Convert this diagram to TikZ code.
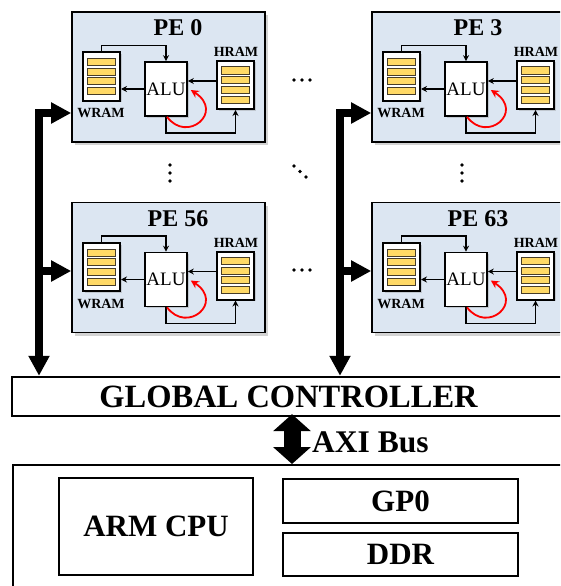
\documentclass[tikz,border=0pt]{standalone}
\usepackage{fontspec}
\setmainfont{Liberation Serif}
\usetikzlibrary{arrows.meta,positioning,shadows,calc}

\definecolor{peblue}{RGB}{220,230,242}
\definecolor{baryellow}{RGB}{255,217,102}
\definecolor{bardark}{RGB}{70,60,40}

\tikzset{
 pebox/.style={draw,line width=1.6pt,fill=peblue,minimum width=193pt,minimum height=130pt,
  drop shadow={opacity=0.35,shadow xshift=2.5pt,shadow yshift=-3pt}},
 mem/.style={draw,line width=2pt,fill=white,minimum width=37pt,minimum height=48pt,inner sep=0pt,
  drop shadow={opacity=0.3,shadow xshift=1.5pt,shadow yshift=-1.5pt}},
 alu/.style={draw,line width=1.6pt,fill=white,minimum width=42pt,minimum height=54pt,inner sep=0pt,
  font=\fontsize{19}{19}\selectfont,drop shadow={opacity=0.3,shadow xshift=1.5pt,shadow yshift=-1.5pt}},
 bar/.style={draw=bardark,line width=1pt,fill=baryellow},
 memlabel/.style={font=\bfseries\fontsize{14}{14}\selectfont,inner sep=0pt},
 petitle/.style={font=\bfseries\fontsize{24}{24}\selectfont,inner sep=0pt},
 wire/.style={line width=1.4pt,-{Stealth[length=6pt,width=6pt]}},
 loopback/.style={red,line width=1.8pt,-{Stealth[length=8pt,width=8pt]}},
 bus/.style={line width=8pt,-{Triangle[length=20pt,width=20pt]}},
 axibus/.style={line width=17pt,{Triangle[length=17pt,width=37pt]}-{Triangle[length=17pt,width=37pt]}},
 block/.style={draw,line width=2.4pt,inner sep=0pt,font=\bfseries\fontsize{31}{31}\selectfont},
 dot/.style={fill=black},
}

% one processing element: name, x, y, title
\newcommand\peunit[4]{%
 \begin{scope}[shift={(#2,#3)}]
 \node[pebox] (#1) at (0,0) {};
 \node[petitle] (#1-t) at (9.5,-49) {#4};
 \node[mem] (#1-w) at (-67,-0.5) {};
 \node[memlabel] (#1-wl) at (-67.5,36) {WRAM};
 \node[alu] (#1-a) at (-2.5,12) {ALU};
 \node[mem] (#1-h) at (67,8) {};
 \node[memlabel] (#1-hl) at (67.5,-25) {HRAM};
 \foreach \m in {w,h}
  \foreach \k in {-14.5,-4.8,4.8,14.5}
   \draw[bar] ($(#1-\m)+(-14,\k-3.5)$) rectangle ($(#1-\m)+(14,\k+3.5)$);
 \coordinate (#1-p) at ($(#1-h.west)+(0,-4)$);
 \draw[wire] (#1-w.north) -- ++(0,-6) -| (#1-a.north);
 \draw[wire] (#1-a.west) -- (#1-a.west -| #1-w.east);
 \draw[wire] (#1-p) -- (#1-p -| #1-a.east);
 \draw[wire] (#1-a.south) -- ++(0,16) -| (#1-h.south);
 \draw[loopback] ($(#1-a.south)+(1,0)$) .. controls +(20,27) and +(34,22) .. ($(#1-a.east)+(3,1)$);
 \end{scope}}

\begin{document}
\begin{tikzpicture}[x=1pt,y=-1pt,>=Stealth]
\useasboundingbox (0,0) rectangle (560,586);
\clip (0,0) rectangle (560,586);
% processing elements
\peunit{pe0}{168.5}{77}{PE 0}
\peunit{pe3}{468.5}{77}{PE 3}
\peunit{pe56}{168.5}{267.5}{PE 56}
\peunit{pe63}{468.5}{267.5}{PE 63}
% dots between the elements
\foreach \y in {80,270} \foreach \x in {294,302,310} \fill[dot] (\x,\y) circle (1.8);
\foreach \x in {170,462} \foreach \y in {165,173,181} \fill[dot] (\x,\y) circle (1.8);
\foreach \x/\y in {294/166,300/171.5,306/177} \fill[dot] (\x,\y) circle (1.8);
% controller and processing system
\node[block,minimum width=553pt,minimum height=39pt,font=\bfseries\fontsize{32.5}{32}\selectfont] (gc) at (288.5,396.5) {GLOBAL CONTROLLER};
\node[block,minimum width=600pt,minimum height=150pt,anchor=north west] (ps) at (12,464) {};
\node[block,minimum width=194pt,minimum height=97pt] (cpu) at (156,526.5) {ARM CPU};
\node[block,minimum width=235pt,minimum height=44pt] (gp) at (400.5,501) {GP0};
\node[block,minimum width=235pt,minimum height=43pt] (ddr) at (400.5,554.5) {DDR};
% buses
\coordinate (bl1) at (39,113);
\coordinate (bl2) at (39,271);
\coordinate (br1) at (340,113);
\coordinate (br2) at (340,271);
\draw[bus] ($(bl1)+(0,-4)$) -- (bl1 |- gc.north);
\draw[bus] ($(br1)+(0,-4)$) -- (br1 |- gc.north);
\foreach \c/\p in {bl1/pe0,bl2/pe56,br1/pe3,br2/pe63}
 \draw[bus] ($(\c)+(-4,0)$) -- (\c -| \p.west);
\coordinate (axi) at (292,0);
\draw[axibus] ([yshift=3pt]gc.south -| axi) -- (ps.north -| axi);
\node[font=\bfseries\fontsize{31.5}{31}\selectfont,anchor=west,inner sep=0pt] (axil) at (312,442) {AXI Bus};
\end{tikzpicture}
\end{document}
